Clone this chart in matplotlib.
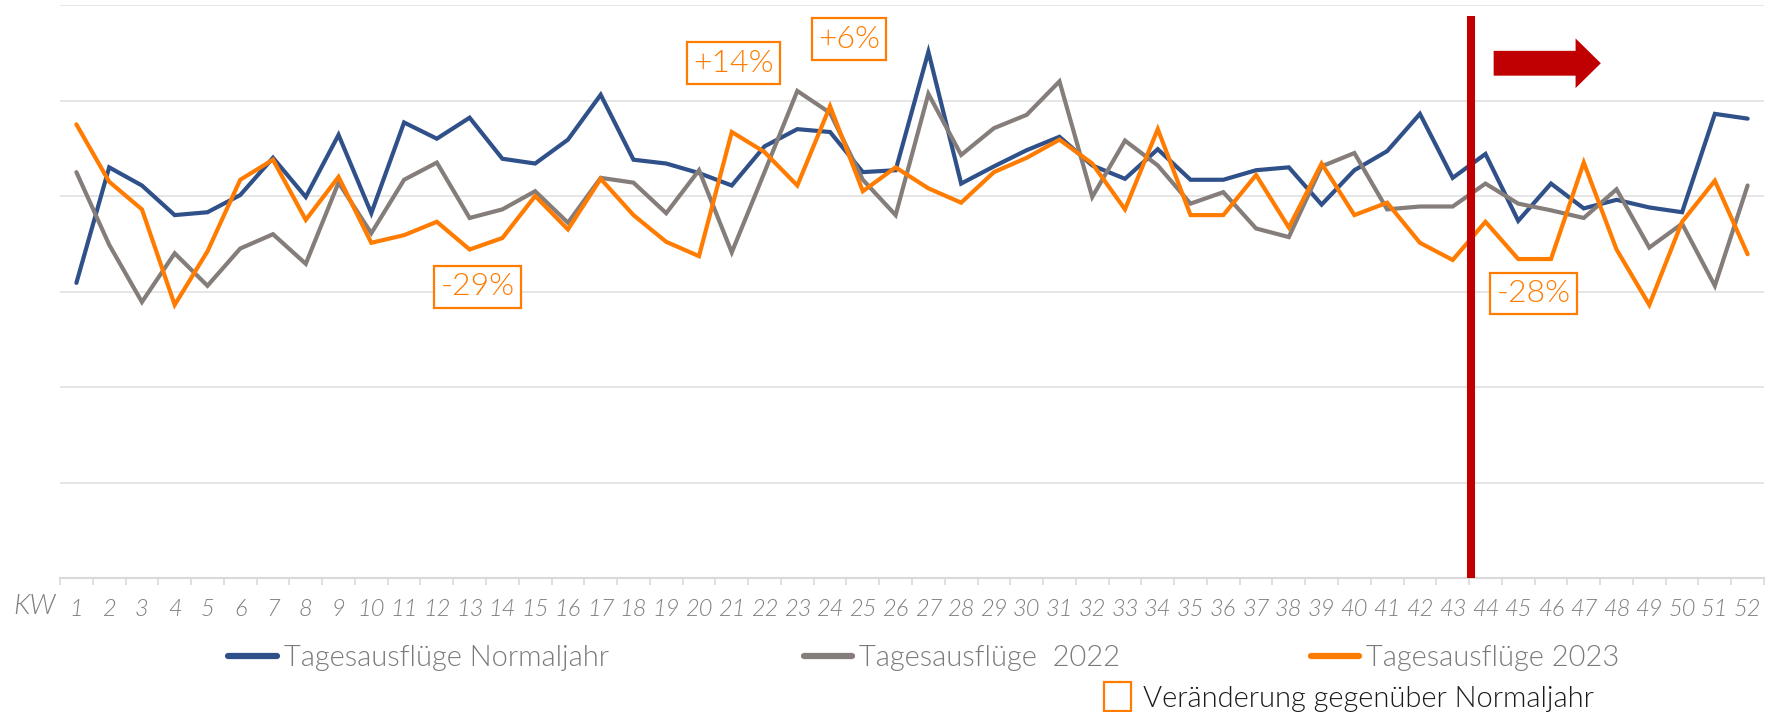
import os
import matplotlib.pyplot as plt
from matplotlib import font_manager as fm
from matplotlib.lines import Line2D
from matplotlib.patches import Rectangle, FancyArrow

plt.rcParams['font.family'] = ['Lato', 'DejaVu Sans']

W, H = 1779, 712

kw = list(range(1, 53))

# weekly values, in grid units (grid step = 1)
normaljahr = [3.09, 4.30, 4.11, 3.80, 3.83, 4.01, 4.40, 3.99, 4.64, 3.82,
              4.77, 4.60, 4.82, 4.39, 4.34, 4.59, 5.06, 4.38, 4.34, 4.24,
              4.11, 4.52, 4.70, 4.67, 4.25, 4.27, 5.51, 4.13, 4.31, 4.48,
              4.62, 4.32, 4.18, 4.49, 4.17, 4.17, 4.27, 4.30, 3.91, 4.27,
              4.47, 4.86, 4.19, 4.44, 3.74, 4.13, 3.87, 3.96, 3.88, 3.83,
              4.86, 4.81]
jahr_2022 = [4.25, 3.49, 2.89, 3.40, 3.06, 3.45, 3.60, 3.29, 4.14, 3.61,
             4.17, 4.35, 3.77, 3.86, 4.05, 3.72, 4.19, 4.14, 3.82, 4.27,
             3.41, 4.25, 5.10, 4.87, 4.17, 3.80, 5.07, 4.43, 4.71, 4.85,
             5.20, 3.99, 4.58, 4.32, 3.92, 4.04, 3.66, 3.57, 4.31, 4.45,
             3.86, 3.89, 3.89, 4.13, 3.92, 3.85, 3.77, 4.07, 3.46, 3.71,
             3.06, 4.11]
jahr_2023 = [4.75, 4.15, 3.86, 2.86, 3.42, 4.17, 4.38, 3.75, 4.20, 3.51,
             3.59, 3.73, 3.44, 3.56, 4.00, 3.65, 4.18, 3.80, 3.52, 3.37,
             4.67, 4.46, 4.11, 4.94, 4.05, 4.30, 4.08, 3.93, 4.25, 4.40,
             4.59, 4.34, 3.86, 4.70, 3.80, 3.80, 4.22, 3.67, 4.34, 3.80,
             3.93, 3.51, 3.33, 3.73, 3.34, 3.34, 4.35, 3.44, 2.86, 3.73,
             4.16, 3.39]

# change labels: (text, kw position, level)
changes = [("-29%", 13.24, 3.05), ("+14%", 21.06, 5.39),
           ("+6%", 24.58, 5.64), ("-28%", 45.47, 2.98)]
cut_kw = 43.55

BLUE = '#2F5089'
GRAY = '#847D7A'
ORANGE = '#FF7C00'
RED = '#C00000'


def lato(style_name):
    # pick a Lato cut by file name, fall back to the regular family
    for f in fm.findSystemFonts():
        if os.path.basename(f).lower() == 'lato-' + style_name + '.ttf':
            return fm.FontProperties(fname=f)
    return fm.FontProperties(family='Lato', style='italic' if 'italic' in style_name else 'normal')


light = lato('light')
light_it = lato('lightitalic')
regular = lato('regular')


def fx(x):
    return x / W


def fy(y):
    return 1 - y / H


fig = plt.figure(figsize=(W / 100, H / 100), dpi=100)
ax = fig.add_axes([fx(60), fy(578), fx(1764) - fx(60), fy(5) - fy(578)])

for vals, col in [(normaljahr, BLUE), (jahr_2022, GRAY), (jahr_2023, ORANGE)]:
    ax.plot(kw, vals, color=col, lw=3.0, solid_capstyle='round',
            solid_joinstyle='miter', zorder=3)

ax.set_xlim(0.5, 52.5)
ax.set_ylim(0, 6)
ax.set_yticks(range(0, 7))
ax.yaxis.grid(True, color='#E6E6E6', lw=1.4)
ax.set_axisbelow(True)
ax.tick_params(axis='y', length=0, labelleft=False)
for s in ['top', 'left', 'right']:
    ax.spines[s].set_visible(False)
ax.spines['bottom'].set_color('#D9D9D9')
ax.spines['bottom'].set_linewidth(1.5)

ax.set_xticks(kw)
ax.set_xticklabels([str(k) for k in kw], fontproperties=light_it, fontsize=17,
                   color='#7F7F7F')
ax.set_xticks([k + 0.5 for k in range(0, 53)], minor=True)
ax.tick_params(axis='x', which='major', length=0, pad=15)
ax.tick_params(axis='x', which='minor', length=5, width=1.2, color='#D9D9D9')

ax.vlines(cut_kw, 0, 5.885, color=RED, lw=5.8, zorder=4)
ax.add_patch(FancyArrow(44.25, 5.39, 2.5, 0, width=0.26, head_width=0.52,
                        head_length=0.77, length_includes_head=False,
                        color=RED, lw=0, zorder=5))

for txt, x, y in changes:
    ax.text(x, y, txt, ha='center', va='center', fontproperties=light,
            fontsize=23, color=ORANGE, zorder=6,
            bbox=dict(boxstyle='square,pad=0.2', fc='white', ec=ORANGE, lw=1.6))

fig.text(fx(34), fy(606), "KW", ha='center', va='center', fontproperties=light_it,
         fontsize=20, color='#7F7F7F')

# legend
legend_rows = [(225, 280, BLUE, "Tagesausflüge Normaljahr"),
               (801, 855, GRAY, "Tagesausflüge  2022"),
               (1308, 1362, ORANGE, "Tagesausflüge 2023")]
for x0, x1, col, lab in legend_rows:
    fig.add_artist(Line2D([fx(x0 + 3), fx(x1 - 3)], [fy(656), fy(656)],
                          color=col, lw=4.5, solid_capstyle='round'))
    fig.text(fx(x1 + 4), fy(666), lab, ha='left', va='baseline',
             fontproperties=light, fontsize=21, color='#7A7A7A')

fig.add_artist(Rectangle((fx(1104), fy(711)), fx(27), fy(682) - fy(711),
                         transform=fig.transFigure, fc='white', ec=ORANGE, lw=1.6))
fig.text(fx(1143), fy(707), "Veränderung gegenüber Normaljahr", ha='left',
         va='baseline', fontproperties=light, fontsize=21, color='#1A1A1A')

fig.savefig("out.png", dpi=100)
